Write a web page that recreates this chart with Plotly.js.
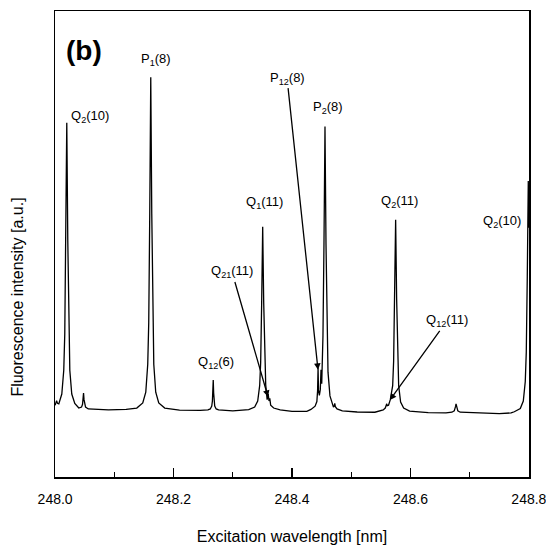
<!DOCTYPE html>
<html>
<head>
<meta charset="utf-8">
<script src="https://cdn.plot.ly/plotly-3.0.1.min.js"></script>
<style>html,body{margin:0;padding:0;background:#fff;}#chart{width:546px;height:546px;}</style>
</head>
<body>
<div id="chart"></div>
<script>
// Excitation wavelength (nm) and fluorescence intensity (a.u.)
const wavelength = [
  248.0000, 248.0012, 248.0025, 248.0040, 248.0062, 248.0113, 248.0146, 248.0163, 248.0180, 248.0197,
  248.0214, 248.0231, 248.0248, 248.0281, 248.0332, 248.0400, 248.0446, 248.0463, 248.0472, 248.0480,
  248.0488, 248.0497, 248.0514, 248.0560, 248.0900, 248.1200,
  248.1379, 248.1480, 248.1531, 248.1564, 248.1581, 248.1598, 248.1615, 248.1632, 248.1649, 248.1666,
  248.1699, 248.1750, 248.1851, 248.2100, 248.2450,
  248.2580, 248.2620, 248.2645, 248.2656, 248.2663, 248.2670, 248.2677, 248.2684, 248.2695, 248.2720,
  248.2760, 248.3000, 248.3250,
  248.3269, 248.3370, 248.3421, 248.3454, 248.3471, 248.3488, 248.3505, 248.3522, 248.3539, 248.3556,
  248.3580, 248.3598, 248.3612, 248.3625, 248.3640, 248.3690, 248.3800, 248.4000, 248.4250,
  248.4320, 248.4390, 248.4420, 248.4432, 248.4440, 248.4448, 248.4462, 248.4478, 248.4490, 248.4502,
  248.4515, 248.4523, 248.4540, 248.4557, 248.4574, 248.4591, 248.4608, 248.4641, 248.4692, 248.4700,
  248.4712, 248.4722, 248.4732, 248.4760, 248.4850, 248.5100, 248.5400,
  248.5480, 248.5540, 248.5575, 248.5590, 248.5600, 248.5610, 248.5630, 248.5660, 248.5680, 248.5700,
  248.5716, 248.5733, 248.5750, 248.5767, 248.5784, 248.5801, 248.5834, 248.5885, 248.5986, 248.6300,
  248.6600, 248.6700, 248.6740, 248.6755, 248.6763, 248.6770, 248.6777, 248.6785, 248.6800, 248.6840,
  248.7200, 248.7500, 248.7700, 248.7754, 248.7855, 248.7906, 248.7939, 248.7956, 248.7973, 248.7990,
  248.8000
];
const intensity = [
  15.4, 15.9, 16.4, 15.8, 15.7, 17.8, 22.9, 30.7, 50.7, 76.0,
  50.7, 30.7, 22.9, 17.8, 15.8, 14.8, 15.0, 15.6, 16.6, 18.0,
  16.6, 15.6, 15.0, 14.6, 14.4, 14.5,
  14.8, 15.9, 18.2, 24.2, 33.2, 56.5, 85.8, 56.5, 33.2, 24.2,
  18.2, 15.9, 14.8, 14.35, 14.3,
  14.4, 14.6, 15.2, 16.3, 18.0, 20.8, 18.0, 16.3, 15.2, 14.6,
  14.4, 14.2, 14.3,
  14.45, 15.0, 16.3, 19.6, 24.6, 37.5, 53.7, 37.5, 24.6, 19.8,
  16.6, 17.8, 16.3, 16.9, 15.4, 14.8, 14.4, 14.1, 14.1,
  14.5, 15.2, 16.2, 18.5, 23.4, 18.5, 17.5, 18.8, 23.0, 20.0,
  25.5, 30.3, 50.1, 75.2, 50.1, 30.3, 22.5, 17.4, 15.4, 15.0,
  15.2, 15.8, 15.1, 14.6, 14.2, 13.95, 13.9,
  14.1, 14.4, 14.8, 15.3, 15.7, 15.3, 15.4, 16.6, 18.0, 19.6,
  24.8, 38.2, 55.2, 38.2, 24.8, 19.6, 16.1, 14.8, 14.15, 13.8,
  13.75, 13.9, 14.2, 14.7, 15.2, 15.7, 15.2, 14.7, 14.2, 13.9,
  13.65, 13.6, 13.75, 14.0, 14.7, 16.3, 20.5, 26.8, 43.0, 63.5,
  53.5
];

// Axis ticks
const tickValues = [248.0, 248.2, 248.4, 248.6, 248.8];
const tickLabels = ['248.0', '248.2', '248.4', '248.6', '248.8'];

// Peak labels (text, x, y) and arrow tips for labelled arrows
const peakLabels = ['Q<sub>2</sub>(10)', 'P<sub>1</sub>(8)', 'P<sub>2</sub>(8)', 'Q<sub>1</sub>(11)', 'Q<sub>12</sub>(6)', 'Q<sub>2</sub>(11)', 'Q<sub>2</sub>(10)'];
const peakLabelX = [248.059, 248.170, 248.461, 248.354, 248.272, 248.582, 248.754];
const peakLabelY = [77.3, 89.7, 79.4, 58.8, 24.5, 59.2, 54.9];

const arrowLabels = ['Q<sub>21</sub>(11)', 'P<sub>12</sub>(8)', 'Q<sub>12</sub>(11)'];
const arrowLabelX = [248.2987, 248.3916, 248.6616];
const arrowLabelY = [44.0, 85.6, 33.5];
const arrowTipX = [248.3595, 248.4439, 248.5654];
const arrowTipY = [17.2, 23.0, 16.5];

const sans = '"Liberation Sans", Arial, sans-serif';

const annotations = [];
annotations.push({
  xref: 'paper', yref: 'paper', x: 0.061, y: 0.915, xanchor: 'center', yanchor: 'middle',
  text: '<b>(b)</b>', showarrow: false,
  font: {family: sans, size: 28, color: '#000'}
});
for (let i = 0; i < peakLabels.length; i++) {
  annotations.push({
    x: peakLabelX[i], y: peakLabelY[i], xref: 'x', yref: 'y', xanchor: 'center', yanchor: 'middle',
    text: peakLabels[i], showarrow: false,
    font: {family: sans, size: 13, color: '#000'}
  });
}
for (let i = 0; i < arrowLabels.length; i++) {
  annotations.push({
    x: arrowTipX[i], y: arrowTipY[i], xref: 'x', yref: 'y',
    ax: arrowLabelX[i], ay: arrowLabelY[i], axref: 'x', ayref: 'y',
    text: arrowLabels[i], showarrow: true, arrowhead: 2, arrowsize: 1, arrowwidth: 1.3,
    arrowcolor: '#000', standoff: 0,
    font: {family: sans, size: 13, color: '#000'}
  });
}
// y-axis title placed as in the reference (below the axis centre)
annotations.push({
  xref: 'paper', yref: 'paper', x: -0.078, y: 0.385, xanchor: 'center', yanchor: 'middle',
  text: 'Fluorescence intensity [a.u.]',
  showarrow: false, textangle: -90, font: {family: sans, size: 16, color: '#000'}
});

const trace = {
  x: wavelength, y: intensity, type: 'scatter', mode: 'lines',
  line: {color: '#000', width: 1.3}, hoverinfo: 'skip'
};

const layout = {
  width: 546, height: 546,
  margin: {l: 55, r: 17, t: 11, b: 69},
  paper_bgcolor: '#fff', plot_bgcolor: '#fff',
  showlegend: false,
  xaxis: {
    range: [247.9998, 248.8002], tickmode: 'array', tickvals: tickValues, ticktext: tickLabels,
    ticks: 'inside', ticklen: 9, tickwidth: 1.5, tickcolor: '#000',
    minor: {dtick: 0.1, tick0: 248.0, ticks: 'inside', ticklen: 5, tickwidth: 1.2, tickcolor: '#000', showgrid: false},
    showline: true, mirror: true, linecolor: '#000', linewidth: 1.5,
    showgrid: false, zeroline: false, ticklabelstandoff: 9, ticklabeloverflow: 'allow',
    tickfont: {family: sans, size: 14, color: '#000'},
    title: {text: 'Excitation wavelength [nm]', standoff: 24, font: {family: sans, size: 16, color: '#000'}}
  },
  yaxis: {
    range: [0, 100], showticklabels: false, ticks: '',
    showline: true, mirror: true, linecolor: '#000', linewidth: 1.5,
    showgrid: false, zeroline: false
  },
  annotations: annotations
};

Plotly.newPlot('chart', [trace], layout, {staticPlot: true, displayModeBar: false});
</script>
</body>
</html>
